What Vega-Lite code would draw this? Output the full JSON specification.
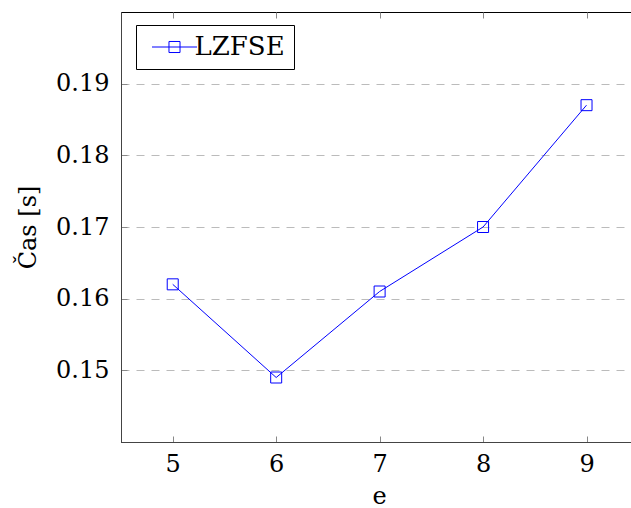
{
  "$schema": "https://vega.github.io/schema/vega-lite/v6.json",
  "width": 510,
  "height": 430,
  "autosize": {"type": "none"},
  "padding": {"left": 121, "top": 12, "right": 0, "bottom": 66},
  "config": {
    "view": {"stroke": "black", "strokeWidth": 1},
    "font": "DejaVu Serif"
  },
  "data": {
    "values": [
      {"e": 5, "cas": 0.162, "series": "LZFSE"},
      {"e": 6, "cas": 0.149, "series": "LZFSE"},
      {"e": 7, "cas": 0.161, "series": "LZFSE"},
      {"e": 8, "cas": 0.170, "series": "LZFSE"},
      {"e": 9, "cas": 0.187, "series": "LZFSE"}
    ]
  },
  "layer": [
    {
      "mark": {"type": "line", "color": "blue", "strokeWidth": 1},
      "encoding": {
        "x": {
          "field": "e", "type": "quantitative",
          "scale": {"domain": [4.5, 9.43], "nice": false, "zero": false},
          "axis": {
            "orient": "bottom", "values": [5, 6, 7, 8, 9], "format": "d",
            "title": "e", "grid": false, "tickSize": -6, "tickColor": "#888888",
            "domainColor": "#444444", "labelFontSize": 24, "labelColor": "black",
            "labelBaseline": "alphabetic", "labelPadding": 35,
            "titleFontSize": 24, "titleFontWeight": "normal", "titleColor": "black",
            "titleBaseline": "alphabetic", "titleY": 61, "titleX": 258
          }
        },
        "y": {
          "field": "cas", "type": "quantitative",
          "scale": {"domain": [0.14, 0.2], "nice": false, "zero": false},
          "axis": {
            "values": [0.15, 0.16, 0.17, 0.18, 0.19], "format": ".2f",
            "title": "Čas [s]", "grid": true, "gridDash": [8, 7], "gridColor": "#bbbbbb",
            "gridWidth": 1, "tickSize": -6, "tickColor": "#888888", "domainColor": "#444444",
            "labelFontSize": 24, "labelColor": "black", "labelPadding": 18,
            "labelBaseline": "middle",
            "titleFontSize": 24, "titleFontWeight": "normal", "titleColor": "black",
            "titleX": -93, "titleY": 215, "titleAngle": 270, "titleAlign": "center",
            "titleBaseline": "middle"
          }
        },
        "color": {
          "field": "series", "type": "nominal",
          "scale": {"domain": ["LZFSE"], "range": ["blue"]},
          "legend": {
            "orient": "none", "legendX": 15, "legendY": 13, "title": null,
            "strokeColor": "black", "fillColor": "white",
            "padding": 9, "labelFontSize": 26, "labelColor": "black",
            "symbolType": "M-3.75,0H3.75M-0.92,-0.92H0.92V0.92H-0.92Z",
            "symbolSize": 144, "symbolStrokeWidth": 1, "symbolFillColor": "transparent",
            "symbolOffset": 16.5, "labelOffset": 7
          }
        }
      }
    },
    {
      "mark": {"type": "point", "shape": "square", "filled": false, "size": 121, "strokeWidth": 1, "opacity": 1},
      "encoding": {
        "x": {
          "field": "e", "type": "quantitative",
          "axis": {
            "orient": "top", "values": [5, 6, 7, 8, 9], "labels": false, "title": null,
            "grid": false, "tickSize": -6, "tickColor": "#888888", "domain": false
          }
        },
        "y": {"field": "cas", "type": "quantitative"},
        "color": {"field": "series", "type": "nominal"}
      }
    }
  ],
  "resolve": {"axis": {"x": "independent"}}
}
